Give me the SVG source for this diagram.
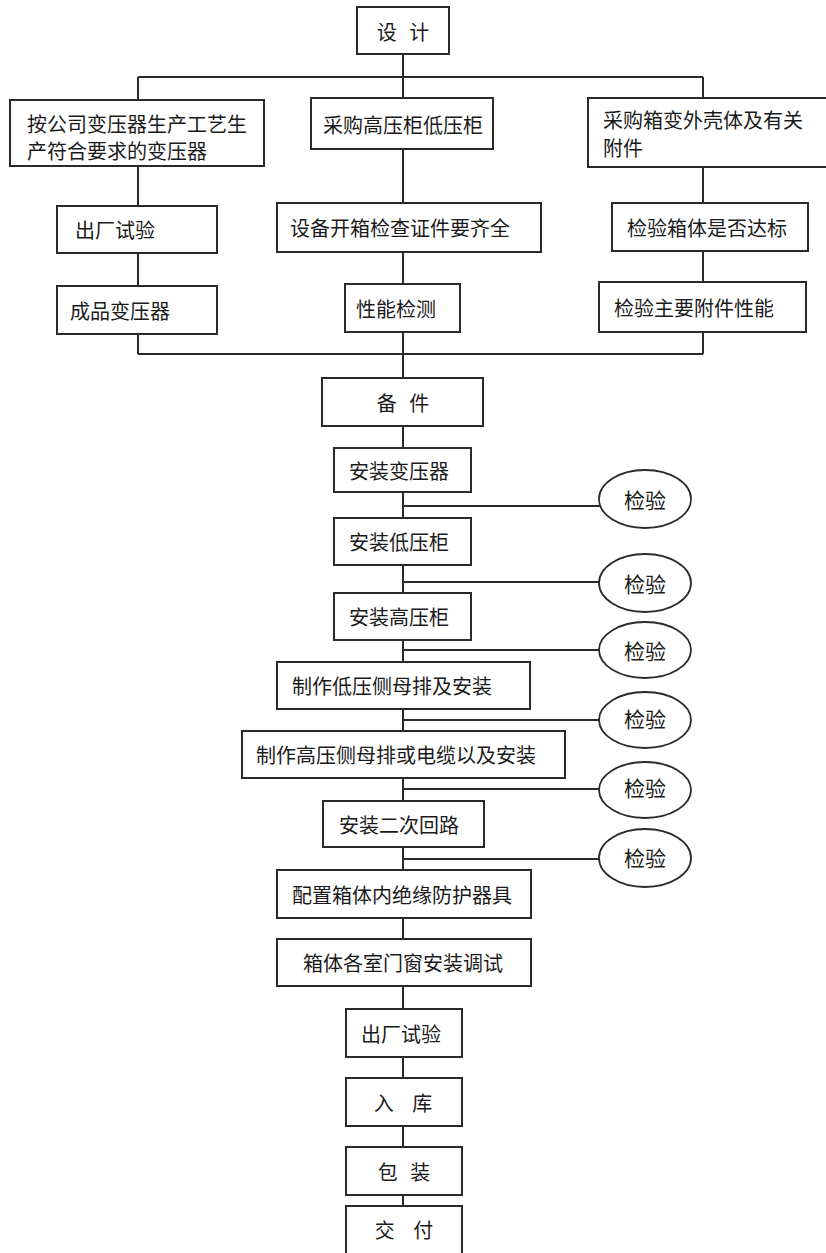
<svg xmlns="http://www.w3.org/2000/svg" width="826" height="1253" viewBox="0 0 826 1253">
<style>
.b{fill:#fff;stroke:#2a2a2a;stroke-width:2}
.e{fill:#fff;stroke:#2a2a2a;stroke-width:1.8}
.c{fill:none;stroke:#2a2a2a;stroke-width:2}
text{font-family:"Noto Sans CJK SC","Liberation Serif",serif;font-size:20px;fill:#1a1a1a;dominant-baseline:central}
.m{text-anchor:middle}
.k{font-size:21px}
</style>
<rect width="826" height="1253" fill="#fff"/>
<g id="connectors">
<path class="c" d="M403,54V77M138,77H703M138,77V100M403,77V98M703,77V98"/>
<path class="c" d="M138,166V206M138,253V286M138,334V354"/>
<path class="c" d="M403,149V203M403,252V284M403,332V378"/>
<path class="c" d="M703,167V202M703,250V282M703,332V354"/>
<path class="c" d="M138,354H703"/>
<path class="c" d="M403,426V448M403,492V1206"/>
<path class="c" d="M403,506H600M403,582H600M403,650H600M403,720H600M403,789H600M403,859H600"/>
</g>
<g id="n1"><rect class="b" x="357" y="7" width="92" height="47"/><text class="m" x="403" y="31" word-spacing="8">设 计</text></g>
<g id="n2"><rect class="b" x="10" y="100" width="254" height="66"/><text x="27" y="123">按公司变压器生产工艺生</text><text x="27" y="150">产符合要求的变压器</text></g>
<g id="n3"><rect class="b" x="311" y="98" width="182" height="51"/><text class="m" x="403" y="124">采购高压柜低压柜</text></g>
<g id="n4"><rect class="b" x="588" y="98" width="250" height="69"/><text x="603" y="119">采购箱变外壳体及有关</text><text x="603" y="147">附件</text></g>
<g id="n5"><rect class="b" x="57" y="206" width="160" height="47"/><text x="75" y="229">出厂试验</text></g>
<g id="n6"><rect class="b" x="57" y="286" width="160" height="48"/><text x="70" y="310">成品变压器</text></g>
<g id="n7"><rect class="b" x="277" y="203" width="264" height="49"/><text class="m" x="400" y="227">设备开箱检查证件要齐全</text></g>
<g id="n8"><rect class="b" x="345" y="284" width="115" height="48"/><text class="m" x="396" y="308">性能检测</text></g>
<g id="n9"><rect class="b" x="612" y="203" width="196" height="48"/><text class="m" x="707" y="227">检验箱体是否达标</text></g>
<g id="n10"><rect class="b" x="599" y="282" width="207" height="50"/><text class="m" x="694" y="307">检验主要附件性能</text></g>
<g id="n11"><rect class="b" x="322" y="378" width="161" height="48"/><text class="m" x="403" y="402" word-spacing="8">备 件</text></g>
<g id="n12"><rect class="b" x="334" y="448" width="137" height="44"/><text class="m" x="399" y="470">安装变压器</text></g>
<g id="n13"><rect class="b" x="334" y="518" width="137" height="47"/><text class="m" x="399" y="541">安装低压柜</text></g>
<g id="n14"><rect class="b" x="334" y="593" width="137" height="47"/><text class="m" x="399" y="616">安装高压柜</text></g>
<g id="n15"><rect class="b" x="277" y="662" width="253" height="47"/><text class="m" x="392" y="685">制作低压侧母排及安装</text></g>
<g id="n16"><rect class="b" x="242" y="731" width="323" height="47"/><text class="m" x="396" y="754">制作高压侧母排或电缆以及安装</text></g>
<g id="n17"><rect class="b" x="323" y="801" width="161" height="46"/><text class="m" x="399" y="824">安装二次回路</text></g>
<g id="n18"><rect class="b" x="277" y="870" width="254" height="48"/><text class="m" x="402" y="894">配置箱体内绝缘防护器具</text></g>
<g id="n19"><rect class="b" x="277" y="939" width="254" height="47"/><text class="m" x="403" y="962">箱体各室门窗安装调试</text></g>
<g id="n20"><rect class="b" x="346" y="1009" width="116" height="48"/><text class="m" x="401" y="1033">出厂试验</text></g>
<g id="n21"><rect class="b" x="346" y="1078" width="116" height="48"/><text class="m" x="403" y="1102" word-spacing="14">入 库</text></g>
<g id="n22"><rect class="b" x="346" y="1147" width="116" height="48"/><text class="m" x="404" y="1171" word-spacing="8">包 装</text></g>
<g id="n23"><rect class="b" x="346" y="1206" width="116" height="50"/><text class="m" x="404" y="1229" word-spacing="14">交 付</text></g>
<g id="v1"><ellipse class="e" cx="645" cy="499" rx="46" ry="29"/><text class="m k" x="645" y="499">检验</text></g>
<g id="v2"><ellipse class="e" cx="645" cy="583" rx="46" ry="29"/><text class="m k" x="645" y="583">检验</text></g>
<g id="v3"><ellipse class="e" cx="645" cy="650" rx="46" ry="28"/><text class="m k" x="645" y="650">检验</text></g>
<g id="v4"><ellipse class="e" cx="645" cy="720" rx="46" ry="28"/><text class="m k" x="645" y="718">检验</text></g>
<g id="v5"><ellipse class="e" cx="645" cy="790" rx="46" ry="28"/><text class="m k" x="645" y="787">检验</text></g>
<g id="v6"><ellipse class="e" cx="645" cy="858" rx="46" ry="29"/><text class="m k" x="645" y="857">检验</text></g>
</svg>
